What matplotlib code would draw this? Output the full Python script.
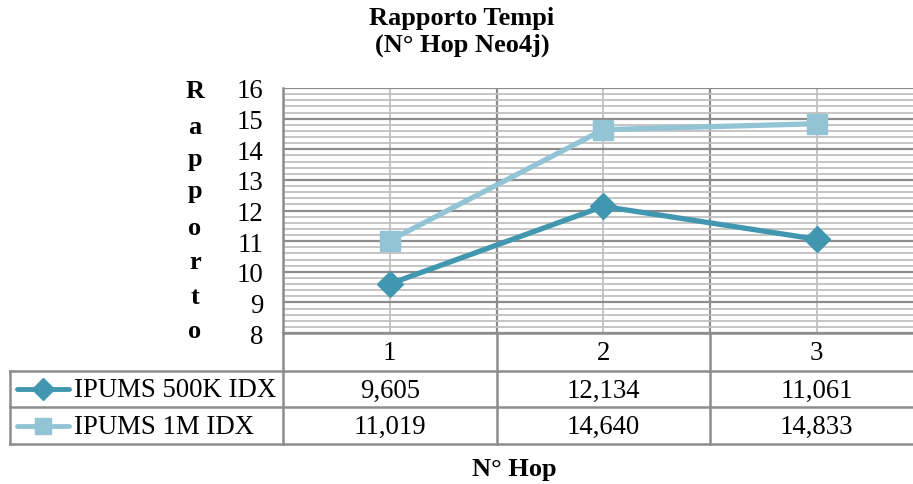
import matplotlib
matplotlib.use("Agg")
import matplotlib.pyplot as plt
from matplotlib.ticker import MultipleLocator, FixedLocator
from matplotlib.transforms import blended_transform_factory
from matplotlib.lines import Line2D

plt.rcParams['font.family'] = ['Liberation Serif', 'DejaVu Serif']

categories = ["1", "2", "3"]
series_names = ["IPUMS 500K IDX", "IPUMS 1M IDX"]
values_500k = [9.605, 12.134, 11.061]
values_1m = [11.019, 14.640, 14.833]
title = "Rapporto Tempi\n(N° Hop Neo4j)"
ylabel = "Rapporto"
xlabel = "N° Hop"

W, H = 913, 485
fig = plt.figure(figsize=(W / 100, H / 100), dpi=100)

# plot area in pixels
left, top, bottom = 283, 89, 334
catw = 213.5
right = left + 3 * catw
ax = fig.add_axes([left / W, 1 - bottom / H, (right - left) / W, (bottom - top) / H])

x = [1, 2, 3]
c1 = "#4197B0"
c2 = "#93C4D6"
ax.plot(x, values_500k, color=c1, lw=3.8, marker='D', ms=13, zorder=5, clip_on=False)
ax.plot(x, values_1m, color=c2, lw=3.8, marker='s', ms=14, zorder=5, clip_on=False)

ax.set_xlim(0.5, 3.5)
ax.set_ylim(8, 16)
ax.yaxis.set_major_locator(MultipleLocator(1))
ax.yaxis.set_minor_locator(MultipleLocator(0.2))
ax.xaxis.set_major_locator(FixedLocator([0.5, 1.5, 2.5, 3.5]))
ax.xaxis.set_minor_locator(FixedLocator([1, 2, 3]))
ax.set_xticklabels([])
ax.tick_params(axis='both', which='both', length=0)
ax.tick_params(axis='y', labelsize=19.3, pad=14)
ax.grid(True, which='major', color='#8C8C8C', lw=1.6)
ax.grid(True, which='minor', color='#C0C0C0', lw=1.3)
ax.set_axisbelow(True)
for s in ['top', 'right']:
    ax.spines[s].set_visible(False)
for s in ['left', 'bottom']:
    ax.spines[s].set_color('#8C8C8C')
    ax.spines[s].set_linewidth(1.8)

# overlay in pixel coordinates
ov = fig.add_axes([0, 0, 1, 1], zorder=10)
ov.set_xlim(0, W)
ov.set_ylim(H, 0)
ov.axis('off')
bt = blended_transform_factory(ax.transData, ov.transData)

gc = '#8C8C8C'
glw = 1.8
r0, r1, r2, r3 = bottom, 372, 408, 445
# horizontal table lines
for yy in (r1, r2, r3):
    ov.add_line(Line2D([10, W], [yy, yy], color=gc, lw=glw))
ov.add_line(Line2D([10, 10], [r1, r3], color=gc, lw=glw))
ov.add_line(Line2D([left, left], [r0, r3], color=gc, lw=glw))
for b in (1.5, 2.5):
    ov.add_line(Line2D([b, b], [r0, r3], color=gc, lw=glw, transform=bt))

fs = 19.3
for xi, cat in zip(x, categories):
    ov.text(xi, (r0 + r1) / 2 + 1, cat, transform=bt, ha='center', va='center', fontsize=fs)
for xi, v in zip(x, values_500k):
    ov.text(xi, (r1 + r2) / 2 + 1, f"{v:.3f}".replace('.', ','), transform=bt,
            ha='center', va='center', fontsize=fs)
for xi, v in zip(x, values_1m):
    ov.text(xi, (r2 + r3) / 2 + 1, f"{v:.3f}".replace('.', ','), transform=bt,
            ha='center', va='center', fontsize=fs)

# legend keys
for (yy, col, mk, ms, name) in [((r1 + r2) / 2, c1, 'D', 11, series_names[0]),
                                 ((r2 + r3) / 2, c2, 's', 11, series_names[1])]:
    ov.add_line(Line2D([17, 69], [yy, yy], color=col, lw=3.5, solid_capstyle='round'))
    ov.add_line(Line2D([43], [yy], color=col, marker=mk, ms=ms, lw=0))
    ov.text(74, yy + 1, name, ha='left', va='center', fontsize=fs)

# title
ov.text(462, 32, title, ha='center', va='center', fontsize=19, fontweight='bold',
        linespacing=1.15)
# x label
ov.text(514, 470, xlabel, ha='center', va='center', fontsize=19, fontweight='bold')
# stacked y label
ys = [92, 127, 160, 192, 229, 263, 298, 332]
for ch, yy in zip(ylabel, ys):
    ov.text(195, yy, ch, ha='center', va='center', fontsize=19, fontweight='bold')

fig.savefig("out.png", dpi=100)
